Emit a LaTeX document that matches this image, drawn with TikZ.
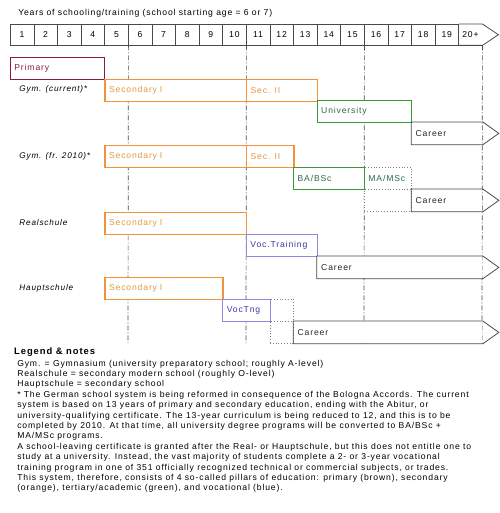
\documentclass[tikz,border=0pt]{standalone}
\usepackage{fontspec}
\setmainfont{Liberation Sans}[LetterSpace=10]
\usetikzlibrary{calc}

\definecolor{primcol}{HTML}{8C1C3C}
\definecolor{seccol}{HTML}{F2923A}
\definecolor{sectext}{HTML}{E09A40}
\definecolor{unicol}{HTML}{3A9A3A}
\definecolor{unitext}{HTML}{2A6A4A}
\definecolor{voccol}{HTML}{8A8AE2}
\definecolor{voctext}{HTML}{3A3AA2}
\definecolor{gridcol}{HTML}{4A4A4A}

\begin{document}
\begin{tikzpicture}[
        x={(23.6pt,0pt)}, y={(0pt,-1pt)},
        txt/.style={font=\fontsize{8.6pt}{10.4pt}\selectfont},
        yrs/.code={\pgfmathsetlengthmacro\boxw{#1*23.6pt-8pt}\tikzset{text width/.expanded=\boxw}},
        stage/.style={
            txt,
            rectangle,
            draw,
            fill=white,
            anchor=north west,
            minimum height=22pt,
            inner xsep=4pt,
            inner ysep=0pt,
            align=left,
            line width=0.8pt
        },
        primary/.style={stage, draw=primcol, text=primcol},
        secondary/.style={stage, draw=seccol, text=sectext, line width=1.3pt},
        tertiary/.style={stage, draw=unicol, text=unitext},
        vocational/.style={stage, draw=voccol, text=voctext},
        optional/.style={stage, draw=gray, dotted},
        career/.style={stage, draw=none, text=black!85},
        careerline/.style={draw=gridcol, line width=0.8pt},
        yearcell/.style={
            txt,
            rectangle,
            draw=gridcol,
            anchor=north west,
            minimum width=23.6pt,
            minimum height=21pt,
            inner sep=0pt
        },
        rowlabel/.style={anchor=west, font=\fontsize{8.2pt}{10pt}\selectfont\itshape},
        note/.style={txt, anchor=base west, inner sep=0pt},
        guide/.style={draw=gridcol, line width=0.7pt, dash pattern=on 5pt off 2pt on 1pt off 2pt}
    ]

        \useasboundingbox (-10pt,0pt) rectangle (489pt,-513pt);

        % time axis
        \node[txt, anchor=west] (title) at (0.2,13) {Years of schooling/training (school starting age = 6 or 7)};
        \foreach \n in {1,...,19}
            \node[yearcell] (y\n) at (\n-1,24) {\n};
        \node[yearcell, draw=none] (y20) at (19,24) {20+};
        \draw[careerline] (y19.north east) -- (y20.north east) -- ([xshift=16pt]y20.east) -- (y20.south east) -- (y19.south east);

        \foreach \k in {5,10,15,20}
            \draw[guide] (y\k.south east) -- (\k,343);

        % primary
        \node[primary, yrs=4] (prim) at (0,57) {Primary};

        % Gymnasium, current
        \node[rowlabel] (lgymcur) at (0.25,89) {Gym. (current)*};
        \node[secondary, yrs=6] (seci1) at (4,79) {Secondary I};
        \node[secondary, yrs=3] (secii1) at (10,79) {Sec. II};
        \node[tertiary, yrs=4] (uni1) at (13,100) {University};
        \node[career, yrs=3] (car1) at (17,122) {Career};
        \draw[careerline] (car1.north west) -- (car1.north east) -- ([xshift=16pt]car1.east) -- (car1.south east) -- (car1.south west) -- cycle;

        % Gymnasium, from 2010
        \node[rowlabel] (lgymnew) at (0.25,156) {Gym. (fr. 2010)*};
        \node[secondary, yrs=6] (seci2) at (4,145) {Secondary I};
        \node[secondary, yrs=2] (secii2) at (10,145) {Sec. II};
        \node[optional, yrs=2, text=unitext] (ma2) at (15,167) {MA/MSc};
        \node[optional, yrs=2] (gap2) at (15,189) {};
        \node[tertiary, yrs=3] (ba2) at (12,167) {BA/BSc};
        \node[career, yrs=3] (car2) at (17,189) {Career};
        \draw[careerline] (car2.north west) -- (car2.north east) -- ([xshift=16pt]car2.east) -- (car2.south east) -- (car2.south west) -- cycle;

        % Realschule
        \node[rowlabel] (lreal) at (0.25,223) {Realschule};
        \node[secondary, yrs=6] (seci3) at (4,212) {Secondary I};
        \node[vocational, yrs=3] (voc3) at (10,234) {Voc.Training};
        \node[career, yrs=7] (car3) at (13,256) {Career};
        \draw[careerline] (car3.north west) -- (car3.north east) -- ([xshift=16pt]car3.east) -- (car3.south east) -- (car3.south west) -- cycle;

        % Hauptschule
        \node[rowlabel] (lhaupt) at (0.25,288) {Hauptschule};
        \node[secondary, yrs=5] (seci4) at (4,277) {Secondary I};
        \node[optional, yrs=1] (vocx4) at (11,299) {};
        \node[optional, yrs=1] (gap4) at (11,321) {};
        \node[vocational, yrs=2] (voc4) at (9,299) {VocTng};
        \node[career, yrs=8] (car4) at (12,321) {Career};
        \draw[careerline] (car4.north west) -- (car4.north east) -- ([xshift=16pt]car4.east) -- (car4.south east) -- (car4.south west) -- cycle;

        % legend
        \node[note, font=\fontsize{9.4pt}{11pt}\selectfont\bfseries] (legend) at (0.17,354.5) {Legend \& notes};
        \foreach \notetext [count=\i] in {
            {Gym. = Gymnasium (university preparatory school; roughly A-level)},
            {Realschule = secondary modern school (roughly O-level)},
            {Hauptschule = secondary school},
            {* The German school system is being reformed in consequence of the Bologna Accords. The current},
            {system is based on 13 years of primary and secondary education, ending with the Abitur, or},
            {university-qualifying certificate. The 13-year curriculum is being reduced to 12, and this is to be},
            {completed by 2010. At that time, all university degree programs will be converted to BA/BSc +},
            {MA/MSc programs.},
            {A school-leaving certificate is granted after the Real- or Hauptschule, but this does not entitle one to},
            {study at a university. Instead, the vast majority of students complete a 2- or 3-year vocational},
            {training program in one of 351 officially recognized technical or commercial subjects, or trades.},
            {This system, therefore, consists of 4 so-called pillars of education: primary (brown), secondary},
            {(orange), tertiary/academic (green), and vocational (blue).}}
            \node[note] (note\i) at (0.3,355.6+\i*10.4) {\notetext};

    \end{tikzpicture}
\end{document}
